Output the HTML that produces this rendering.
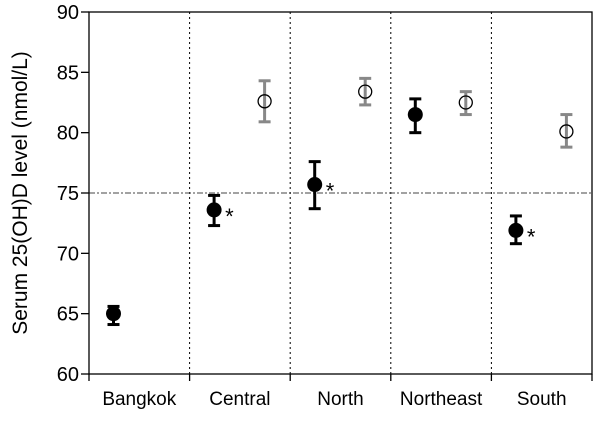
<!DOCTYPE html>
<html><head><meta charset="utf-8"><style>html,body{margin:0;padding:0;background:#fff}svg{display:block;font-family:"Liberation Sans",Arial,sans-serif}</style></head>
<body>
<svg id="chart" width="600" height="422"></svg>
<script>
const categories=["Bangkok","Central","North","Northeast","South"];
const filledMean=[65.0,73.6,75.7,81.5,71.9];
const filledLo=[64.1,72.3,73.7,80.0,70.8];
const filledHi=[65.6,74.8,77.6,82.8,73.1];
const filledStar=[false,true,true,false,true];
const openMean=[null,82.6,83.4,82.5,80.1];
const openLo=[null,80.9,82.3,81.5,78.8];
const openHi=[null,84.3,84.5,83.4,81.5];
const yTicks=[60,65,70,75,80,85,90];
const refLine=75;
const NS="http://www.w3.org/2000/svg";
const svg=document.getElementById('chart');
const L=89,R=592,T=12,B=374;
const y=v=>B-(v-60)/(90-60)*(B-T);
const bw=(R-L)/categories.length;
const xF=i=>L+i*bw+24.5;
const xO=i=>L+i*bw+75;
function el(tag,a,p){const e=document.createElementNS(NS,tag);for(const k in a)e.setAttribute(k,a[k]);(p||svg).appendChild(e);return e;}
for(let i=1;i<categories.length;i++){const d=el('line',{x1:L+i*bw,x2:L+i*bw,y1:T,y2:B,stroke:'#000','stroke-width':1,'stroke-dasharray':'2,3'});

}
const rl=el('line',{x1:L,x2:R,y1:y(refLine),y2:y(refLine),stroke:'#444','stroke-width':1,'stroke-dasharray':'6,2,2,2'});


const fr=el('rect',{x:L,y:T,width:R-L,height:B-T,fill:'none',stroke:'#000','stroke-width':1.3});


yTicks.forEach(v=>{el('line',{x1:L-8,x2:L,y1:y(v),y2:y(v),stroke:'#000','stroke-width':1.3});
const t=el('text',{x:L-10,y:y(v)+7,'text-anchor':'end','font-size':20});t.textContent=v;

});
categories.forEach((c,i)=>{el('line',{x1:L+i*bw,x2:L+i*bw,y1:B,y2:B+7,stroke:'#000','stroke-width':1.3});
const t=el('text',{x:L+i*bw+bw/2,y:B+31,'text-anchor':'middle','font-size':19});t.textContent=c;

});
el('line',{x1:R,x2:R,y1:B,y2:B+7,stroke:'#000','stroke-width':1.3});
const yt=el('text',{x:0,y:0,'text-anchor':'middle','font-size':21,transform:'translate(27,'+((T+B)/2)+') rotate(-90)'});yt.textContent='Serum 25(OH)D level (nmol/L)';


function errbar(x,lo,hi,col){el('line',{x1:x,x2:x,y1:y(lo),y2:y(hi),stroke:col,'stroke-width':3});
el('line',{x1:x-6,x2:x+6,y1:y(lo),y2:y(lo),stroke:col,'stroke-width':3});
el('line',{x1:x-6,x2:x+6,y1:y(hi),y2:y(hi),stroke:col,'stroke-width':3});}
categories.forEach((c,i)=>{
 if(openMean[i]!==null){const x=xO(i);errbar(x,openLo[i],openHi[i],'#888');
  const m=el('circle',{cx:x,cy:y(openMean[i]),r:6.5,fill:'none',stroke:'#000','stroke-width':1.3});
  
  }
 const x=xF(i);errbar(x,filledLo[i],filledHi[i],'#000');
 const m=el('circle',{cx:x,cy:y(filledMean[i]),r:7.5,fill:'#000'});
 
 
 if(filledStar[i]){const s=el('text',{x:x+11,y:y(filledMean[i])+14,'font-size':22});s.textContent='*';
 
 }
});
</script>
</body></html>
